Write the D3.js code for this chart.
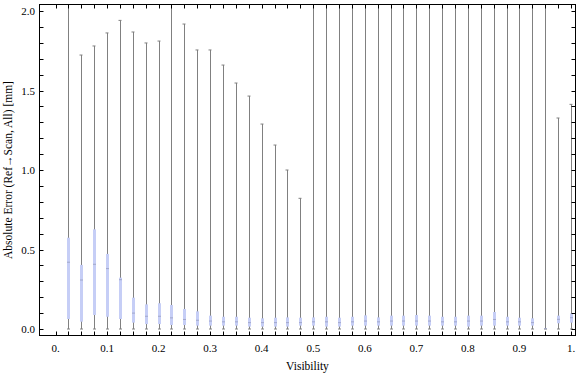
<!DOCTYPE html>
<html>
<head>
<meta charset="utf-8">
<script src="https://cdn.jsdelivr.net/npm/d3@7"></script>
<style>
  body { margin: 0; background: #fff; }
  text { font-family: "Liberation Serif", "DejaVu Serif", serif; }
</style>
</head>
<body>
<div id="chart"></div>
<script>
const visibility = [0.025, 0.05, 0.075, 0.1, 0.125, 0.15, 0.175, 0.2, 0.225, 0.25,
  0.275, 0.3, 0.325, 0.35, 0.375, 0.4, 0.425, 0.45, 0.475, 0.5,
  0.525, 0.55, 0.575, 0.6, 0.625, 0.65, 0.675, 0.7, 0.725, 0.75,
  0.775, 0.8, 0.825, 0.85, 0.875, 0.9, 0.925, 0.95, 0.975, 1.0]

// whisker ends (values above 2 are clipped by the frame)
const whiskerMax = [2.4, 1.723, 1.78, 1.862, 1.941, 1.868, 1.799, 1.811, 2.4, 1.918,
  1.755, 1.755, 1.66, 1.547, 1.465, 1.289, 1.157, 1.0, 0.822, 2.4,
  2.4, 2.4, 2.4, 2.4, 2.4, 2.4, 2.4, 2.4, 2.4, 2.4,
  2.4, 2.4, 2.4, 2.4, 2.4, 2.4, 2.4, 2.4, 1.327, 1.413]
const whiskerMin = [0, 0, 0, 0, 0, 0, 0, 0, 0, 0,
  0, 0, 0, 0, 0, 0, 0, 0, 0, 0,
  0, 0, 0, 0, 0, 0, 0, 0, 0, 0,
  0, 0, 0, 0, 0, 0, 0, 0, 0, 0]

// box quartiles and medians
const q3 = [0.574, 0.403, 0.627, 0.472, 0.323, 0.197, 0.155, 0.162, 0.151, 0.126,
  0.111, 0.084, 0.077, 0.077, 0.071, 0.067, 0.071, 0.073, 0.071, 0.073,
  0.077, 0.071, 0.077, 0.086, 0.073, 0.084, 0.084, 0.088, 0.084, 0.077,
  0.077, 0.084, 0.084, 0.107, 0.077, 0.071, 0.067, 0.004, 0.084, 0.099]
const q1 = [0.063, 0.046, 0.088, 0.077, 0.063, 0.04, 0.031, 0.031, 0.025, 0.025,
  0.021, 0.021, 0.021, 0.021, 0.015, 0.015, 0.015, 0.015, 0.021, 0.021,
  0.015, 0.015, 0.021, 0.021, 0.021, 0.021, 0.021, 0.021, 0.021, 0.021,
  0.021, 0.015, 0.021, 0.021, 0.021, 0.021, 0.021, 0.0, 0.036, 0.04]
const medians = [0.42, 0.308, 0.407, 0.38, 0.31, 0.1, 0.08, 0.08, 0.07, 0.06,
  0.055, 0.05, 0.045, 0.045, 0.04, 0.04, 0.04, 0.04, 0.04, 0.045,
  0.045, 0.04, 0.045, 0.05, 0.045, 0.05, 0.05, 0.05, 0.05, 0.045,
  0.045, 0.05, 0.05, 0.06, 0.045, 0.045, 0.04, 0.002, 0.061, 0.071]

const xTickLabels = ["0.", "0.1", "0.2", "0.3", "0.4", "0.5", "0.6", "0.7", "0.8", "0.9", "1."]
const yTickLabels = ["0.0", "0.5", "1.0", "1.5", "2.0"]

const width = 576, height = 375
const frameLeft = 39.5, frameRight = 575.5, frameTop = 4.5, frameBottom = 335.5

const x = d3.scaleLinear().domain([0, 1]).range([55.5, 571])
const y = d3.scaleLinear().domain([0, 2]).range([329, 11])

const svg = d3.select("#chart").append("svg")
  .attr("width", width)
  .attr("height", height)

svg.append("clipPath").attr("id", "clip")
  .append("rect")
  .attr("x", frameLeft).attr("y", frameTop)
  .attr("width", frameRight - frameLeft).attr("height", frameBottom - frameTop)

const data = visibility.map((v, i) => ({
  v, lo: whiskerMin[i], hi: whiskerMax[i], q1: q1[i], q3: q3[i], med: medians[i]
}))

const plot = svg.append("g").attr("clip-path", "url(#clip)")
const boxW = 3, capW = 3

const g = plot.selectAll("g.item").data(data).join("g").attr("class", "item")

g.append("line")
  .attr("x1", d => Math.round(x(d.v)) + 0.5).attr("x2", d => Math.round(x(d.v)) + 0.5)
  .attr("y1", d => y(d.lo)).attr("y2", d => y(d.hi))
  .attr("stroke", "#808080").attr("stroke-width", 1)

// caps
g.append("line")
  .attr("x1", d => Math.round(x(d.v)) + 0.5 - capW / 2 - 0.5).attr("x2", d => Math.round(x(d.v)) + 0.5 + capW / 2 - 0.5)
  .attr("y1", d => y(d.hi)).attr("y2", d => y(d.hi))
  .attr("stroke", "#808080").attr("stroke-width", 1)
g.append("line")
  .attr("x1", d => Math.round(x(d.v)) + 0.5 - capW / 2).attr("x2", d => Math.round(x(d.v)) + 0.5 + capW / 2)
  .attr("y1", d => y(d.lo)).attr("y2", d => y(d.lo))
  .attr("stroke", "#808080").attr("stroke-width", 1)

g.append("rect")
  .attr("x", d => Math.round(x(d.v)) + 0.5 - boxW / 2)
  .attr("width", boxW)
  .attr("y", d => y(d.q3))
  .attr("height", d => Math.max(0, y(d.q1) - y(d.q3)))
  .attr("fill", "#c6cef6")

g.append("line")
  .attr("x1", d => Math.round(x(d.v)) + 0.5 - boxW / 2).attr("x2", d => Math.round(x(d.v)) + 0.5 + boxW / 2)
  .attr("y1", d => y(d.med)).attr("y2", d => y(d.med))
  .attr("stroke", "#8a8fb0").attr("stroke-width", 1).attr("opacity", 0.6)

// frame
svg.append("rect")
  .attr("x", frameLeft).attr("y", frameTop)
  .attr("width", frameRight - frameLeft).attr("height", frameBottom - frameTop)
  .attr("fill", "none").attr("stroke", "#000").attr("stroke-width", 1)

// ticks (inside the frame on all sides)
const xTicks = d3.range(0, 41).map(i => i * 0.025)
const yTicks = d3.range(0, 21).map(i => i * 0.1)
const tickLen = 4

svg.append("g").selectAll("line").data(xTicks).join("line")
  .attr("x1", d => Math.round(x(d)) + 0.5).attr("x2", d => Math.round(x(d)) + 0.5)
  .attr("y1", frameBottom).attr("y2", frameBottom - tickLen)
  .attr("stroke", "#000")
svg.append("g").selectAll("line").data(xTicks).join("line")
  .attr("x1", d => Math.round(x(d)) + 0.5).attr("x2", d => Math.round(x(d)) + 0.5)
  .attr("y1", frameTop).attr("y2", frameTop + tickLen)
  .attr("stroke", "#000")
svg.append("g").selectAll("line").data(yTicks).join("line")
  .attr("y1", d => Math.round(y(d)) + 0.5).attr("y2", d => Math.round(y(d)) + 0.5)
  .attr("x1", frameLeft).attr("x2", frameLeft + tickLen)
  .attr("stroke", "#000")
svg.append("g").selectAll("line").data(yTicks).join("line")
  .attr("y1", d => Math.round(y(d)) + 0.5).attr("y2", d => Math.round(y(d)) + 0.5)
  .attr("x1", frameRight).attr("x2", frameRight - tickLen)
  .attr("stroke", "#000")

// tick labels
svg.append("g").selectAll("text").data(xTickLabels).join("text")
  .attr("x", (d, i) => x(i / 10))
  .attr("y", 352)
  .attr("text-anchor", "middle")
  .attr("font-size", 11)
  .text(d => d)
svg.append("g").selectAll("text").data(yTickLabels).join("text")
  .attr("x", 35)
  .attr("y", (d, i) => y(i * 0.5) + 4)
  .attr("text-anchor", "end")
  .attr("font-size", 11)
  .text(d => d)

// axis titles
svg.append("text")
  .attr("x", (frameLeft + frameRight) / 2)
  .attr("y", 370)
  .attr("text-anchor", "middle")
  .attr("font-size", 11.5)
  .text("Visibility")
svg.append("text")
  .attr("transform", `translate(12,${(frameTop + frameBottom) / 2}) rotate(-90)`)
  .attr("text-anchor", "middle")
  .attr("font-size", 11.5)
  .text("Absolute Error (Ref\u2192Scan, All) [mm]")
</script>
</body>
</html>
